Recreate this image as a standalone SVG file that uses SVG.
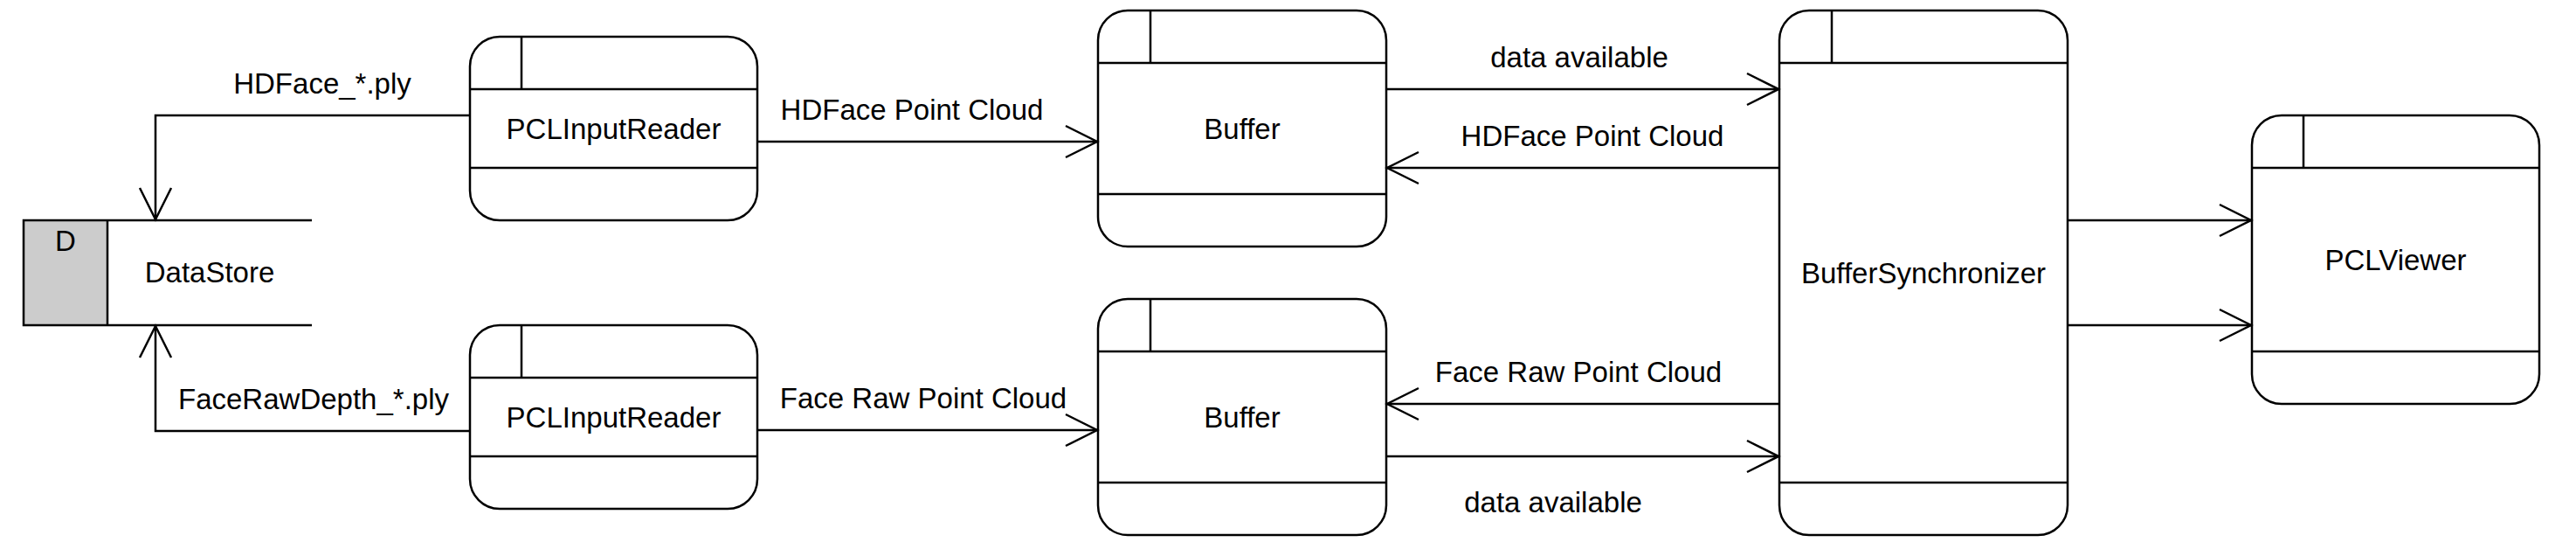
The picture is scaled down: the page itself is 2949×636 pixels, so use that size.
<svg xmlns="http://www.w3.org/2000/svg" width="2949" height="636" viewBox="0 0 2949 636">
<style>
.box{fill:#ffffff;stroke:#000000;stroke-width:2.5}
.ln{fill:none;stroke:#000000;stroke-width:2.5}
.t{font-family:"Liberation Sans",Arial,sans-serif;font-size:33px;fill:#000000;text-anchor:middle}
</style>
<defs>
<marker id="arr" viewBox="-40 -22 44 44" markerWidth="44" markerHeight="44" refX="0" refY="0" markerUnits="userSpaceOnUse" orient="auto">
<path d="M -36 -18 L 0 0 L -36 18" fill="none" stroke="#000000" stroke-width="2.5"/>
</marker>
</defs>
<rect width="2949" height="636" fill="#ffffff"/>

<g id="datastore">
<rect x="27" y="252" width="96" height="120" fill="#cccccc" stroke="none"/>
<path class="ln" d="M 357 252 L 27 252 L 27 372 L 357 372 M 123 252 L 123 372"/>
<text class="t" x="75" y="287">D</text>
<text class="t" x="240" y="323">DataStore</text>
</g>

<g id="pclinputreader1">
<rect class="box" x="538" y="42" width="329" height="210" rx="34" ry="34"/>
<path class="ln" d="M 538 102 L 867 102 M 538 192 L 867 192 M 597 42 L 597 102"/>
<text class="t" x="702.5" y="159">PCLInputReader</text>
</g>

<g id="pclinputreader2">
<rect class="box" x="538" y="372" width="329" height="210" rx="34" ry="34"/>
<path class="ln" d="M 538 432 L 867 432 M 538 522 L 867 522 M 597 372 L 597 432"/>
<text class="t" x="702.5" y="489">PCLInputReader</text>
</g>

<g id="buffer1">
<rect class="box" x="1257" y="12" width="330" height="270" rx="34" ry="34"/>
<path class="ln" d="M 1257 72 L 1587 72 M 1257 222 L 1587 222 M 1317 12 L 1317 72"/>
<text class="t" x="1422" y="159">Buffer</text>
</g>

<g id="buffer2">
<rect class="box" x="1257" y="342" width="330" height="270" rx="34" ry="34"/>
<path class="ln" d="M 1257 402 L 1587 402 M 1257 552 L 1587 552 M 1317 342 L 1317 402"/>
<text class="t" x="1422" y="489">Buffer</text>
</g>

<g id="buffersynchronizer">
<rect class="box" x="2037" y="12" width="330" height="600" rx="34" ry="34"/>
<path class="ln" d="M 2037 72 L 2367 72 M 2037 552 L 2367 552 M 2097 12 L 2097 72"/>
<text class="t" x="2202" y="324">BufferSynchronizer</text>
</g>

<g id="pclviewer">
<rect class="box" x="2578" y="132" width="329" height="330" rx="34" ry="34"/>
<path class="ln" d="M 2578 192 L 2907 192 M 2578 402 L 2907 402 M 2637 132 L 2637 192"/>
<text class="t" x="2742.5" y="309">PCLViewer</text>
</g>

<g id="connectors">
<polyline class="ln" points="538,132 178,132 178,251" marker-end="url(#arr)"/>
<text class="t" x="369" y="107">HDFace_*.ply</text>
<polyline class="ln" points="538,493 178,493 178,373" marker-end="url(#arr)"/>
<text class="t" x="359" y="468">FaceRawDepth_*.ply</text>
<line class="ln" x1="867" y1="162" x2="1256" y2="162" marker-end="url(#arr)"/>
<text class="t" x="1044" y="137">HDFace Point Cloud</text>
<line class="ln" x1="867" y1="492" x2="1256" y2="492" marker-end="url(#arr)"/>
<text class="t" x="1057" y="467">Face Raw Point Cloud</text>
<line class="ln" x1="1587" y1="102" x2="2036" y2="102" marker-end="url(#arr)"/>
<text class="t" x="1808" y="77">data available</text>
<line class="ln" x1="2037" y1="192" x2="1588" y2="192" marker-end="url(#arr)"/>
<text class="t" x="1823" y="167">HDFace Point Cloud</text>
<line class="ln" x1="2037" y1="462" x2="1588" y2="462" marker-end="url(#arr)"/>
<text class="t" x="1807" y="437">Face Raw Point Cloud</text>
<line class="ln" x1="1587" y1="522" x2="2036" y2="522" marker-end="url(#arr)"/>
<text class="t" x="1778" y="586">data available</text>
<line class="ln" x1="2367" y1="252" x2="2577" y2="252" marker-end="url(#arr)"/>
<line class="ln" x1="2367" y1="372" x2="2577" y2="372" marker-end="url(#arr)"/>
</g>
</svg>
